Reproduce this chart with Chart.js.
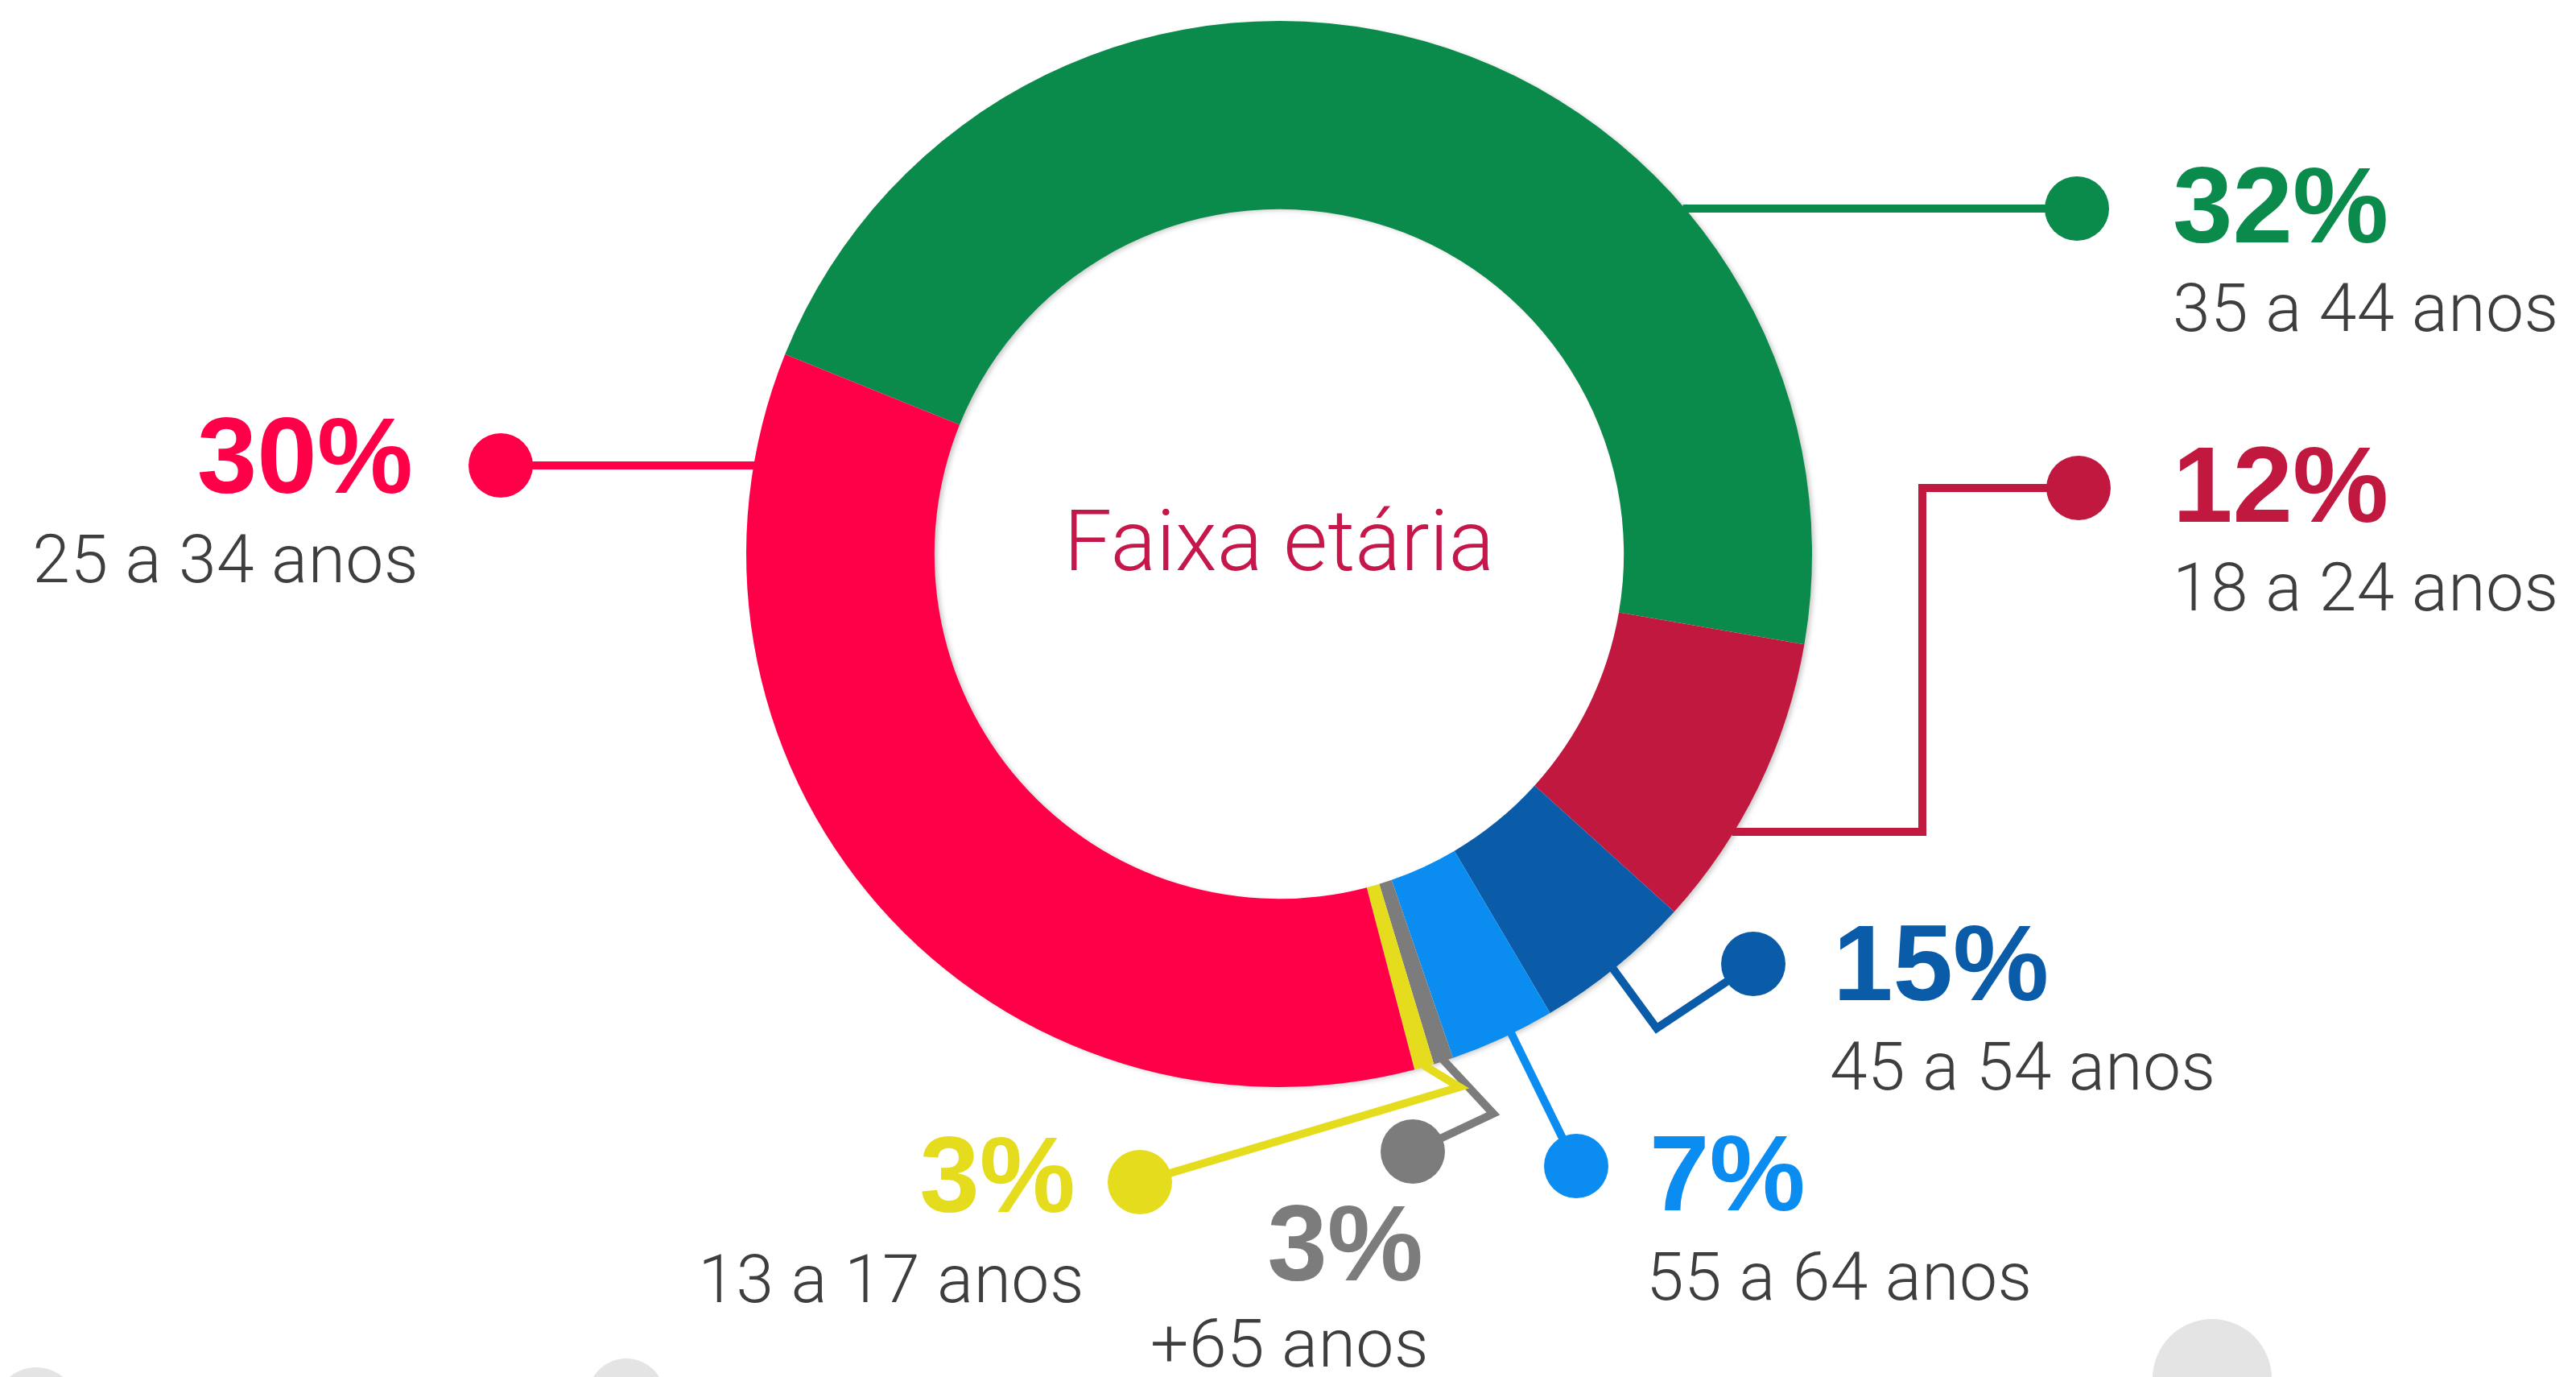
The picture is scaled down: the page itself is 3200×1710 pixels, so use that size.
<!DOCTYPE html>
<html>
<head>
<meta charset="utf-8">
<script src="https://cdn.jsdelivr.net/npm/chart.js@4.4.1/dist/chart.umd.min.js"></script>
<style>
  html, body { margin: 0; padding: 0; background: #ffffff; }
  canvas { display: block; }
</style>
</head>
<body>
<canvas id="chart" width="3200" height="1710"></canvas>
<script>
// Data, in ring order (clockwise, starting at the green slice)
const ageGroups = ['35 a 44 anos', '18 a 24 anos', '45 a 54 anos', '55 a 64 anos', '+65 anos', '13 a 17 anos', '25 a 34 anos'];
const percentLabels = ['32%', '12%', '15%', '7%', '3%', '3%', '30%'];
// share of the ring each slice takes in the picture
const arcShares = [46.6, 9.0, 4.8, 3.2, 0.6, 0.6, 35.2];
const sliceColors = ['#0a8b4c', '#c0183f', '#0a5ca8', '#0a8cf0', '#7c7c7c', '#e6dc1e', '#ff0048'];
const centerTitle = 'Faixa etária';

// Callout placement, offsets from the doughnut centre.
// route: dot first, then bends towards the ring.
// at: where on the slice the leader meets the ring (0..1); none = horizontal hookup
const calloutLayout = [
  { route: [[991, -429]], pct: [1110, -387], cat: [1110, -277], align: 'left' },
  { route: [[993, -82], [799, -82], [799, 345]], pct: [1110, -40], cat: [1110, 70], align: 'left' },
  { route: [[589, 509], [469, 589]], at: 0.52, pct: [688, 554], cat: [684, 665], align: 'left' },
  { route: [[369, 760]], at: 0.41, pct: [460, 815], cat: [456, 926], align: 'left' },
  { route: [[166, 742], [266, 695]], at: 0.5, pct: [179, 902], cat: [186, 1009], align: 'right' },
  { route: [[-173, 780], [224, 662]], at: 0.5, pct: [-253, 817], cat: [-242, 929], align: 'right' },
  { route: [[-967, -110]], pct: [-1076, -76], cat: [-1069, 35], align: 'right' },
];

// faded share icons cut off at the bottom edge
const footerIcons = [[45, 1750, 52], [778, 1735, 48], [2748, 1712, 74]];

const ringShadow = {
  id: 'ringShadow',
  beforeDatasetsDraw: (chart) => {
    const arc = chart.getDatasetMeta(0).data[0];
    if (!arc) return;
    const { x, y, outerRadius, innerRadius } = arc.getProps(['x', 'y', 'outerRadius', 'innerRadius'], true);
    const ctx = chart.ctx;
    ctx.save();
    ctx.shadowColor = 'rgba(0, 0, 0, 0.22)';
    ctx.shadowBlur = 6;
    ctx.shadowOffsetX = 4;
    ctx.shadowOffsetY = 2;
    ctx.beginPath();
    ctx.arc(x, y, outerRadius - 1, 0, Math.PI * 2);
    ctx.arc(x, y, innerRadius + 1, 0, Math.PI * 2, true);
    ctx.fillStyle = '#ffffff';
    ctx.fill();
    ctx.restore();
  },
};

const callouts = {
  id: 'callouts',
  afterDatasetsDraw: (chart) => {
    const ctx = chart.ctx;
    const arcs = chart.getDatasetMeta(0).data;
    const cx = arcs[0].x;
    const cy = arcs[0].y;

    ctx.save();
    ctx.font = '300 106px Roboto';
    ctx.fillStyle = '#c5174a';
    ctx.textAlign = 'center';
    ctx.textBaseline = 'alphabetic';
    ctx.fillText(centerTitle, cx, cy + 20);

    calloutLayout.forEach((lay, i) => {
      const arc = arcs[i];
      const color = sliceColors[i];
      const R = arc.outerRadius - 2;
      const last = lay.route[lay.route.length - 1];
      let hook;
      if (lay.at === undefined) {
        const dx = Math.sqrt(R * R - last[1] * last[1]);
        hook = [last[0] > 0 ? dx : -dx, last[1]];
      } else {
        const a = arc.startAngle + (arc.endAngle - arc.startAngle) * lay.at;
        hook = [Math.cos(a) * R, Math.sin(a) * R];
      }
      const pts = lay.route.concat([hook]);

      ctx.strokeStyle = color;
      ctx.lineWidth = 10;
      ctx.lineJoin = 'miter';
      ctx.beginPath();
      pts.forEach((p, k) => {
        if (k === 0) ctx.moveTo(cx + p[0], cy + p[1]);
        else ctx.lineTo(cx + p[0], cy + p[1]);
      });
      ctx.stroke();

      ctx.fillStyle = color;
      ctx.beginPath();
      ctx.arc(cx + lay.route[0][0], cy + lay.route[0][1], 40, 0, Math.PI * 2);
      ctx.fill();

      ctx.textAlign = lay.align;
      ctx.letterSpacing = '0px';
      ctx.font = 'bold 134px "Liberation Sans"';
      ctx.fillText(percentLabels[i], cx + lay.pct[0], cy + lay.pct[1]);

      ctx.fillStyle = '#3e3e3e';
      ctx.font = '300 84px Roboto';
      ctx.letterSpacing = '0.5px';
      ctx.fillText(ageGroups[i], cx + lay.cat[0], cy + lay.cat[1]);
    });
    ctx.restore();
  },
  afterDraw: (chart) => {
    const ctx = chart.ctx;
    ctx.save();
    ctx.fillStyle = '#e4e4e4';
    footerIcons.forEach(([x, y, r]) => {
      ctx.beginPath();
      ctx.arc(x, y, r, 0, Math.PI * 2);
      ctx.fill();
    });
    ctx.restore();
  },
};

const build = () => {
  const ctx = document.getElementById('chart').getContext('2d');
  new Chart(ctx, {
    type: 'doughnut',
    data: {
      labels: ageGroups,
      datasets: [
        {
          data: arcShares,
          backgroundColor: sliceColors,
          borderWidth: 0,
          hoverOffset: 0,
        },
      ],
    },
    options: {
      responsive: false,
      animation: false,
      devicePixelRatio: 1,
      rotation: -68,
      radius: 662,
      cutout: 445,
      layout: { padding: { left: 0, right: 22, top: 0, bottom: 334 } },
      events: [],
      plugins: {
        legend: { display: false },
        tooltip: { enabled: false },
      },
    },
    plugins: [ringShadow, callouts],
  });
};

Promise.all([
  document.fonts.load('300 84px Roboto'),
  document.fonts.load('bold 134px "Liberation Sans"'),
]).then(build, build);
</script>
</body>
</html>
